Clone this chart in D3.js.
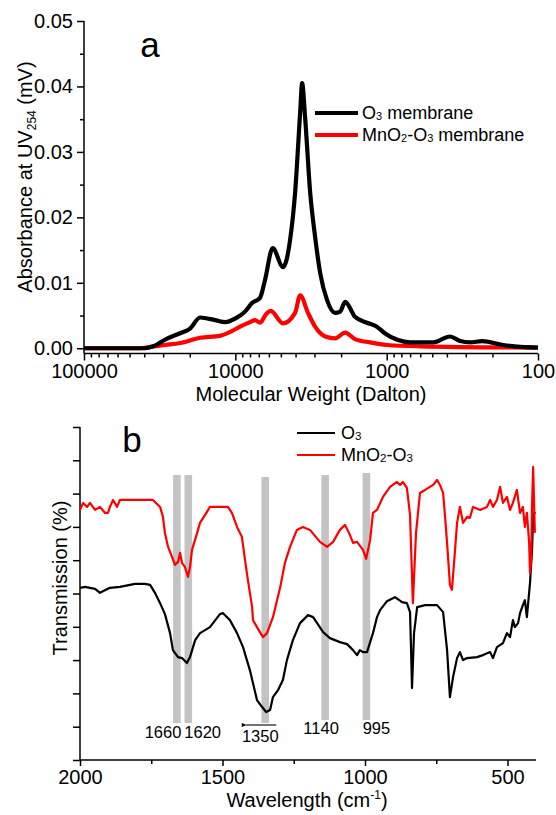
<!DOCTYPE html>
<html><head><meta charset="utf-8">
<script src="https://cdn.jsdelivr.net/npm/d3@7"></script>
<style>body{margin:0;background:#fff}svg{display:block}text{font-family:"Liberation Sans",Arial,sans-serif;fill:#000}</style>
</head><body><svg id="c" width="556" height="815"></svg>
<script>
// ---------- Panel a data: [Molecular weight (Da), absorbance (mV)] ----------
const gpcO3 = [[100000,0],[39500,0],[34000,0.0004],[29200,0.0013],[23200,0.0023],[19900,0.003],[17100,0.0047],
 [13600,0.0043],[11700,0.004],[9900,0.0046],[8630,0.0056],[7760,0.0069],[6870,0.0077],[6370,0.0104],[5660,0.0153],
 [4840,0.0124],[4350,0.0165],[4030,0.0237],[3730,0.036],[3620,0.0405],[3460,0.0353],[3200,0.0237],[2970,0.017],
 [2750,0.0115],[2480,0.0074],[2190,0.0054],[2030,0.0056],[1880,0.0071],[1620,0.0048],[1350,0.0039],[1160,0.0033],
 [1030,0.0023],[850,0.0013],[700,0.0009],[493,0.0009],[381,0.0018],[327,0.0011],[281,0.0009],[234,0.0011],
 [170,0.0005],[130,0.0002],[100,0.0001]];
const gpcMnO2O3 = [[100000,0],[42700,0],[36600,0.0002],[29200,0.0005],[23200,0.0008],[17100,0.0016],[12600,0.0019],
 [10800,0.0025],[9310,0.0033],[8000,0.004],[7410,0.0043],[6870,0.0039],[6270,0.0052],[5840,0.0057],[4840,0.0038],
 [4030,0.0054],[3730,0.0081],[3310,0.0054],[2970,0.0033],[2550,0.0018],[2190,0.0015],[1880,0.0024],[1620,0.0014],
 [1290,0.0009],[993,0.0005],[601,0.0003],[100,0.0001]];
const gpcLegend = ["O3 membrane","MnO2-O3 membrane"];
const gpcYTicks = [0,0.01,0.02,0.03,0.04,0.05];
const gpcXTicks = [100000,10000,1000,100];

// ---------- Panel b data: [wavenumber (cm-1), transmission (a.u.)] ----------
const ftirO3 = [[2000,5.17],[1982,5.20],[1965,5.17],[1947,5.14],[1930,5.02],[1895,5.17],[1860,5.20],[1807,5.29],
 [1772,5.29],[1754,5.26],[1737,5.02],[1719,4.71],[1702,4.38],[1684,3.81],[1674,3.30],[1656,3.09],[1642,3.06],
 [1625,2.91],[1614,3.09],[1596,3.60],[1579,3.81],[1544,3.99],[1509,4.38],[1498,4.41],[1474,4.20],[1449,3.81],
 [1428,3.39],[1404,2.70],[1379,1.80],[1361,1.59],[1347,1.44],[1333,1.50],[1323,1.89],[1305,2.10],[1288,2.40],
 [1274,3.00],[1253,3.60],[1228,4.11],[1200,4.35],[1182,4.29],[1168,4.11],[1147,3.84],[1123,3.66],[1088,3.54],
 [1063,3.48],[1042,3.30],[1028,3.15],[1018,3.30],[1007,3.24],[993,3.24],[972,3.81],[958,4.29],[947,4.50],
 [923,4.77],[895,4.89],[870,4.74],[853,4.71],[842,4.44],[839,3.51],[835,2.16],[828,3.81],[817,4.59],[789,4.65],
 [747,4.65],[726,4.44],[712,3.30],[702,1.89],[691,2.49],[677,3.06],[667,3.24],[656,3.00],[642,3.06],[607,3.09],
 [586,3.15],[561,3.24],[551,3.06],[537,3.39],[516,3.51],[502,3.81],[491,3.69],[481,4.20],[474,3.99],[463,4.11],
 [456,4.41],[446,4.65],[439,4.80],[432,4.29],[421,5.32],[414,6.31],[410,7.30],[404,7.45]];
const ftirMnO2O3 = [[2000,7.51],[1989,7.72],[1975,7.60],[1965,7.72],[1947,7.51],[1930,7.60],[1912,7.42],[1902,7.42],
 [1895,7.60],[1884,7.81],[1870,7.60],[1860,7.81],[1744,7.81],[1719,7.60],[1709,7.30],[1702,6.82],[1691,6.40],
 [1677,6.10],[1667,5.86],[1656,5.95],[1649,6.22],[1642,5.92],[1632,5.80],[1621,5.50],[1614,5.80],[1607,6.31],
 [1589,6.82],[1579,7.12],[1561,7.36],[1544,7.60],[1481,7.60],[1467,7.42],[1449,7.00],[1432,6.70],[1421,6.01],
 [1411,5.41],[1396,4.59],[1393,4.20],[1379,3.99],[1358,3.69],[1344,3.81],[1323,4.29],[1298,5.17],[1281,5.92],
 [1263,6.40],[1239,6.91],[1218,7.00],[1193,6.91],[1158,6.55],[1133,6.40],[1112,6.55],[1088,6.91],[1070,7.06],
 [1053,6.76],[1042,6.52],[1028,6.55],[1007,6.31],[996,6.04],[982,6.61],[972,7.42],[958,7.51],[937,7.90],
 [912,8.20],[888,8.35],[877,8.26],[867,8.35],[853,8.17],[842,7.36],[832,4.71],[821,6.82],[807,8.02],[789,8.11],
 [761,8.26],[747,8.41],[737,8.26],[726,8.02],[719,7.30],[712,6.52],[702,5.26],[695,5.11],[684,6.31],[677,7.12],
 [667,7.60],[656,7.12],[642,7.30],[632,7.27],[621,7.60],[596,7.51],[572,7.60],[561,7.81],[551,7.60],[537,7.81],
 [526,8.20],[516,7.72],[502,7.90],[491,7.51],[481,7.72],[467,8.11],[456,7.42],[446,7.60],[439,7.00],[432,7.42],
 [424,6.52],[421,5.62],[417,6.01],[414,7.60],[410,8.80],[404,6.82]];
const ftirLegend = ["O3","MnO2-O3"];
const ftirBands = [1660,1620,1350,1140,995];
const ftirXTicks = [2000,1500,1000,500];
const ftirXMinor = [1750,1250,750];
const ftirYTicks = [0,1,2,3,4,5,6,7,8,9,10];

const svg = d3.select("#c");
const FS = 20;

// helper for chemistry text with small digits
function chem(sel, str, size, small, shift){
  const parts = str.split(/(\d+)/).filter(s=>s.length);
  let cur = 0;
  parts.forEach(p=>{
    const isNum = /^\d+$/.test(p);
    const t = sel.append("tspan").text(p);
    if(isNum){ t.attr("font-size", small).attr("dy", shift - cur); cur = shift; }
    else { t.attr("font-size", size).attr("dy", 0 - cur); cur = 0; }
  });
}

// ================= Panel a =================
const xA = d3.scaleLog().domain([100000,100]).range([84,538]);
const yA = d3.scaleLinear().domain([-0.0008,0.05]).range([353.5,21]);
const gA = svg.append("g");

// y axis
const yAxA = d3.axisLeft(yA).tickValues(gpcYTicks).tickFormat(d3.format(".2f")).tickSize(7).tickSizeOuter(0);
const gyA = gA.append("g").attr("transform","translate(84,0)").call(yAxA);
gyA.select(".domain").attr("d","M0,21V353.5").attr("stroke-width",1.5);
gyA.selectAll(".tick line").attr("stroke-width",1.5);
gyA.selectAll(".tick text").attr("font-size",FS).attr("font-family","Liberation Sans, Arial, sans-serif").attr("x",-11);
gA.append("g").attr("transform","translate(84,0)")
  .call(d3.axisLeft(yA).tickValues([0.005,0.015,0.025,0.035,0.045]).tickSize(4).tickFormat(""))
  .call(g=>{g.select(".domain").remove(); g.selectAll("line").attr("stroke-width",1.5);});

// x axis
const xAxA = d3.axisBottom(xA).tickValues(gpcXTicks).tickFormat(d3.format("d")).tickSize(7).tickSizeOuter(0);
const gxA = gA.append("g").attr("transform","translate(0,353.5)").call(xAxA);
gxA.select(".domain").attr("d","M84,0H538").attr("stroke-width",1.5);
gxA.selectAll(".tick line").attr("stroke-width",1.5);
gxA.selectAll(".tick text").attr("font-size",FS).attr("font-family","Liberation Sans, Arial, sans-serif").attr("y",10);
const minorA = [];
[100,1000,10000].forEach(d=>{for(let k=2;k<=9;k++) minorA.push(d*k);});
gA.append("g").attr("transform","translate(0,353.5)")
  .call(d3.axisBottom(xA).tickValues(minorA).tickSize(4).tickFormat(""))
  .call(g=>{g.select(".domain").remove(); g.selectAll("line").attr("stroke-width",1.5);});

// curves
const lineA = d3.line().x(d=>xA(d[0])).y(d=>yA(d[1])).curve(d3.curveMonotoneX);
gA.append("path").datum(gpcMnO2O3).attr("d",lineA).attr("fill","none").attr("stroke","#ff0000").attr("stroke-width",4.2).attr("stroke-linejoin","round");
gA.append("path").datum(gpcO3).attr("d",lineA).attr("fill","none").attr("stroke","#000").attr("stroke-width",4.2).attr("stroke-linejoin","round");

// labels
gA.append("text").attr("x",150).attr("y",57).attr("text-anchor","middle").attr("font-size",35).text("a");
gA.append("text").attr("x",311).attr("y",401).attr("text-anchor","middle").attr("font-size",FS).text("Molecular Weight (Dalton)");
const ylA = gA.append("text").attr("transform","translate(32,177) rotate(-90)").attr("text-anchor","middle").attr("font-size",FS);
ylA.append("tspan").text("Absorbance at UV");
ylA.append("tspan").attr("font-size",12).attr("dy",4).text("254");
ylA.append("tspan").attr("dy",-4).text(" (mV)");

// legend a
const legColorsA = ["#000","#ff0000"];
gpcLegend.forEach((name,i)=>{
  const y = 113 + i*22;
  gA.append("line").attr("x1",315).attr("x2",358).attr("y1",y).attr("y2",y).attr("stroke",legColorsA[i]).attr("stroke-width",4.2);
  const t = gA.append("text").attr("x",362).attr("y",y+6).attr("font-size",18);
  chem(t, name, 18, 11, 1);
});

// ================= Panel b =================
const xB = d3.scaleLinear().domain([2000,400]).range([80,536]);
const yB = d3.scaleLinear().domain([0,10]).range([760,427]);
const gB = svg.append("g");

// grey bands
const bandTop = [475,475,477,475,473], bandBot = [723,723,723,720,720];
gB.selectAll("rect.band").data(ftirBands).enter().append("rect")
  .attr("x",d=>xB(d)-3.8).attr("width",7.6)
  .attr("y",(d,i)=>bandTop[i]).attr("height",(d,i)=>bandBot[i]-bandTop[i])
  .attr("fill","#c3c3c3");

// y axis
const gyB = gB.append("g").attr("transform","translate(80,0)")
  .call(d3.axisLeft(yB).tickValues(ftirYTicks).tickSize(7).tickFormat("").tickSizeOuter(0));
gyB.select(".domain").attr("d","M0,427V760").attr("stroke-width",1.5);
gyB.selectAll("line").attr("stroke-width",1.5);

// x axis
const gxB = gB.append("g").attr("transform","translate(0,760)")
  .call(d3.axisBottom(xB).tickValues(ftirXTicks).tickFormat(d3.format("d")).tickSize(6).tickSizeOuter(0));
gxB.select(".domain").attr("d","M80,0H536").attr("stroke-width",1.5);
gxB.selectAll(".tick line").attr("stroke-width",1.5);
gxB.selectAll(".tick text").attr("font-size",FS).attr("font-family","Liberation Sans, Arial, sans-serif").attr("y",10);
gB.append("g").attr("transform","translate(0,760)")
  .call(d3.axisBottom(xB).tickValues(ftirXMinor).tickSize(4).tickFormat(""))
  .call(g=>{g.select(".domain").remove(); g.selectAll("line").attr("stroke-width",1.5);});

// spectra
const lineB = d3.line().x(d=>xB(d[0])).y(d=>yB(d[1]));
gB.append("path").datum(ftirO3).attr("d",lineB).attr("fill","none").attr("stroke","#000").attr("stroke-width",2.2).attr("stroke-linejoin","round");
gB.append("path").datum(ftirMnO2O3).attr("d",lineB).attr("fill","none").attr("stroke","#ff0000").attr("stroke-width",2.2).attr("stroke-linejoin","round");

// band labels
const bandLayout = [{dx:4.5,anchor:"end",y:738},{dx:-4,anchor:"start",y:738},{dx:-5,anchor:"middle",y:742},{dx:-4,anchor:"middle",y:734},{dx:10,anchor:"middle",y:734}];
ftirBands.forEach((b,i)=>{
  const L = bandLayout[i];
  gB.append("text").attr("x",xB(b)+L.dx).attr("y",L.y).attr("text-anchor",L.anchor).attr("font-size",16.5).text(b);
});
// arrow under 1350
svg.append("defs").append("marker").attr("id","ah").attr("viewBox","0 0 10 10").attr("refX",1).attr("refY",5)
  .attr("markerWidth",7).attr("markerHeight",5).attr("markerUnits","userSpaceOnUse").attr("orient","auto")
  .append("path").attr("d","M10,1L0,5L10,9Z").attr("fill","#000");
gB.append("line").attr("x1",xB(1350)+11).attr("x2",xB(1350)-19).attr("y1",725).attr("y2",725)
  .attr("stroke","#000").attr("stroke-width",1.1).attr("marker-end","url(#ah)");

// labels
gB.append("text").attr("x",132).attr("y",452).attr("text-anchor","middle").attr("font-size",35).text("b");
const xlB = gB.append("text").attr("x",307).attr("y",807).attr("text-anchor","middle").attr("font-size",FS);
xlB.append("tspan").text("Wavelength (cm");
xlB.append("tspan").attr("font-size",12).attr("dy",-8).text("-1");
xlB.append("tspan").attr("dy",8).text(")");
gB.append("text").attr("transform","translate(67,578) rotate(-90)").attr("text-anchor","middle").attr("font-size",FS).text("Transmission (%)");

// legend b
const legColorsB = ["#000","#ff0000"];
ftirLegend.forEach((name,i)=>{
  const y = 433 + i*22;
  gB.append("line").attr("x1",297).attr("x2",335).attr("y1",y).attr("y2",y).attr("stroke",legColorsB[i]).attr("stroke-width",2.2);
  const t = gB.append("text").attr("x",341).attr("y",y+6).attr("font-size",18);
  chem(t, name, 18, 11.5, 1);
});
</script></body></html>
